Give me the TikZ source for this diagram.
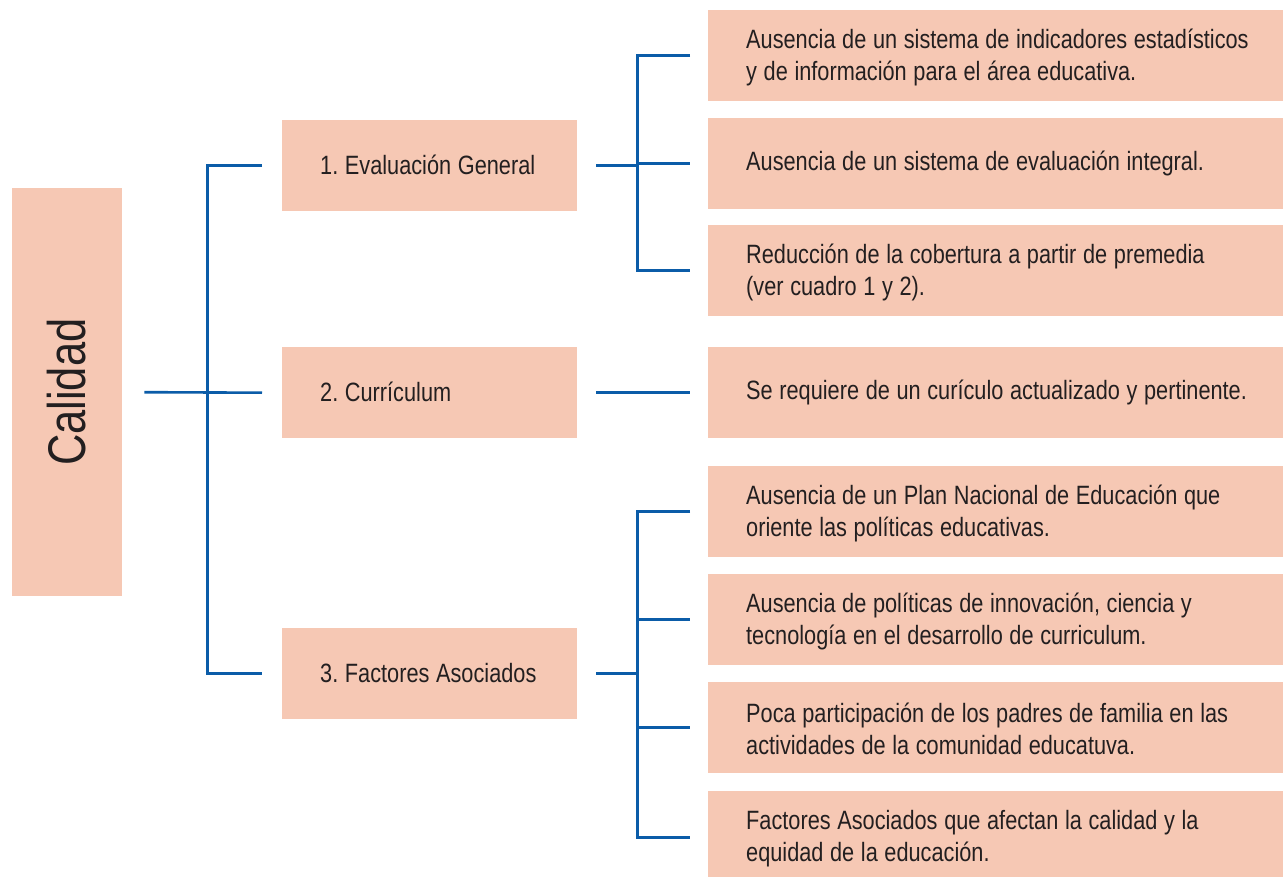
\documentclass[tikz,border=0pt]{standalone}
\usepackage{fontspec}
\setmainfont{Liberation Sans}[FakeStretch=0.82, WordSpace=1.1]
\definecolor{boxfill}{HTML}{F6C8B4}
\definecolor{linkblue}{HTML}{0B5CA8}
\definecolor{txt}{HTML}{231F20}
\begin{document}
\frenchspacing
\begin{tikzpicture}[x=1pt,y=-1pt,
  box/.style={fill=boxfill, draw=none, anchor=north west, inner sep=0pt, minimum height=91pt},
  midbox/.style={box, minimum width=295pt},
  rbox/.style={box, minimum width=575pt},
  lbl/.style={anchor=west, inner sep=0pt, align=left, text=txt,
    font=\fontsize{26.5}{32}\selectfont},
  conn/.style={draw=linkblue, line width=2.6pt}]
\useasboundingbox (0,0) rectangle (1283,877);
% root
\node[fill=boxfill, anchor=north west, minimum width=110pt, minimum height=408pt, inner sep=0pt] (cal) at (12,188) {};
\node[rotate=90, text=txt, font=\fontsize{53}{60}\selectfont] (calt) at ([xshift=-1pt]cal.center) {Calidad};
% middle
\node[midbox] (m1) at (282,120) {};
\node[midbox] (m2) at (282,347) {};
\node[midbox] (m3) at (282,628) {};
\node[lbl] (m1t) at ([xshift=38pt, yshift=1pt]m1.west) {1. Evaluación General};
\node[lbl] (m2t) at ([xshift=38pt, yshift=1pt]m2.west) {2. Currículum};
\node[lbl] (m3t) at ([xshift=38pt, yshift=1pt]m3.west) {3. Factores Asociados};
% right
\node[rbox] (r1) at (708,10) {};
\node[rbox] (r2) at (708,118) {};
\node[rbox] (r3) at (708,225) {};
\node[rbox] (r4) at (708,347) {};
\node[rbox] (r5) at (708,466) {};
\node[rbox] (r6) at (708,574) {};
\node[rbox] (r7) at (708,682) {};
\node[rbox, minimum height=92pt] (r8) at (708,791) {};
\node[lbl] (r1t) at ([xshift=38pt, yshift=-1.5pt]r1.west) {Ausencia de un sistema de indicadores estadísticos\\y de información para el área educativa.};
\node[lbl] (r2t) at ([xshift=38pt]r2.west) {Ausencia de un sistema de evaluación integral.};
\node[lbl] (r3t) at ([xshift=38pt, yshift=-1.5pt]r3.west) {Reducción de la cobertura a partir de premedia\\(ver cuadro 1 y 2).};
\node[lbl] (r4t) at ([xshift=38pt]r4.west) {Se requiere de un curículo actualizado y pertinente.};
\node[lbl] (r5t) at ([xshift=38pt, yshift=-1.5pt]r5.west) {Ausencia de un Plan Nacional de Educación que\\oriente las políticas educativas.};
\node[lbl] (r6t) at ([xshift=38pt, yshift=-1.5pt]r6.west) {Ausencia de políticas de innovación, ciencia y\\tecnología en el desarrollo de curriculum.};
\node[lbl] (r7t) at ([xshift=38pt, yshift=-1.5pt]r7.west) {Poca participación de los padres de familia en las\\actividades de la comunidad educatuva.};
\node[lbl] (r8t) at ([xshift=38pt, yshift=-1.5pt]r8.west) {Factores Asociados que afectan la calidad y la\\equidad de la educación.};
% bus coordinates
\coordinate (b1) at (207.5,391);
\coordinate (b2) at (637.5,164);
\coordinate (b3) at (637.5,672);
% root connectors
\draw[conn] ([xshift=22pt]cal.east) -- ([xshift=-20pt]m2.west);
\draw[conn] ([xshift=-20pt]m1.west) -| (b1 |- m3.west) -- ([xshift=-20pt]m3.west);
% group 1
\draw[conn] ([xshift=19pt]m1.east) -- (b2 |- m1.east);
\draw[conn] ([xshift=-18pt]r1.west) -| (b2 |- r3.west) -- ([xshift=-18pt]r3.west);
\draw[conn] (b2 |- r2.west) -- ([xshift=-18pt]r2.west);
% group 2
\draw[conn] ([xshift=19pt]m2.east) -- ([xshift=-18pt]r4.west);
% group 3
\draw[conn] ([xshift=19pt]m3.east) -- (b3 |- m3.east);
\draw[conn] ([xshift=-18pt]r5.west) -| (b3 |- r8.west) -- ([xshift=-18pt]r8.west);
\draw[conn] (b3 |- r6.west) -- ([xshift=-18pt]r6.west);
\draw[conn] (b3 |- r7.west) -- ([xshift=-18pt]r7.west);
\end{tikzpicture}
\end{document}
